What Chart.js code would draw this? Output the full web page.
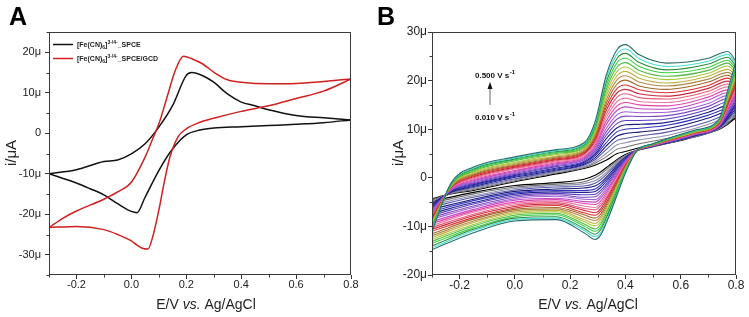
<!DOCTYPE html>
<html><head><meta charset="utf-8">
<script src="https://cdn.jsdelivr.net/npm/chart.js@4.4.1/dist/chart.umd.min.js"></script>
<style>
html,body{margin:0;padding:0;background:#fff;width:749px;height:317px;overflow:hidden}
.p{position:absolute;top:0;height:317px}
#wa{left:0;width:370px}#wb{left:370px;width:379px}
</style></head><body>
<div class="p" id="wa"><canvas id="ca" width="370" height="317"></canvas></div>
<div class="p" id="wb"><canvas id="cb" width="379" height="317"></canvas></div>
<script>
// ---------------- axes ----------------
const xTicks = [-0.2, 0.0, 0.2, 0.4, 0.6, 0.8];
const xMinor = [-0.3, -0.1, 0.1, 0.3, 0.5, 0.7];
const yTicksA = [-30, -20, -10, 0, 10, 20];
const yMinorA = [-35, -25, -15, -5, 5, 15, 25];
const yTicksB = [-20, -10, 0, 10, 20, 30];
const yMinorB = [-15, -5, 5, 15, 25];

// ---------------- Panel A data (E in V, i in µA) ----------------
const seriesA = ['[Fe(CN)6]3-/4-_SPCE', '[Fe(CN)6]3-/4-_SPCE/GCD'];
const eA_SPCE_fwd = [-0.3, -0.2, -0.1, -0.05, 0.0, 0.05, 0.1, 0.15, 0.2, 0.22, 0.26, 0.3, 0.35, 0.4, 0.45, 0.5, 0.6, 0.7, 0.8];
const iA_SPCE_fwd = [-10.0, -9.0, -7.0, -6.6, -5.1, -2.6, 1.5, 6.8, 14.3, 15.0, 14.2, 12.6, 9.7, 7.7, 6.8, 5.8, 4.4, 3.8, 3.3];
const eA_SPCE_rev = [0.7, 0.6, 0.5, 0.4, 0.3, 0.25, 0.2, 0.15, 0.1, 0.05, 0.02, 0.0, -0.05, -0.1, -0.15, -0.2, -0.3];
const iA_SPCE_rev = [2.6, 2.2, 1.9, 1.6, 1.3, 0.8, -0.4, -3.9, -9.2, -15.8, -19.6, -19.3, -17.4, -15.2, -13.7, -12.3, -10.0];
const eA_GCD_fwd = [-0.3, -0.25, -0.2, -0.1, -0.05, 0.0, 0.05, 0.08, 0.1, 0.13, 0.16, 0.19, 0.22, 0.26, 0.3, 0.35, 0.4, 0.5, 0.6, 0.7, 0.8];
const iA_GCD_fwd = [-23.3, -21.0, -19.2, -16.3, -14.5, -12.1, -5.9, -1.0, 2.3, 8.9, 15.5, 19.0, 18.4, 17.1, 15.1, 13.2, 12.6, 12.2, 12.3, 12.8, 13.4];
const eA_GCD_rev = [0.7, 0.6, 0.5, 0.4, 0.3, 0.25, 0.2, 0.17, 0.14, 0.12, 0.1, 0.08, 0.06, 0.04, 0.02, 0.0, -0.05, -0.1, -0.2, -0.3];
const iA_GCD_rev = [10.4, 8.6, 6.8, 5.4, 3.7, 2.7, 1.1, -0.9, -6.0, -12.0, -19.0, -25.0, -28.6, -28.4, -27.6, -26.6, -25.0, -23.8, -23.0, -23.3];

// ---------------- Panel B data: one CV per scan rate ----------------
const eFwd = [-0.3, -0.23, -0.15, 0.0, 0.15, 0.25, 0.29, 0.33, 0.37, 0.40, 0.45, 0.55, 0.7, 0.77, 0.8];
const eRev = [0.77, 0.74, 0.65, 0.5, 0.44, 0.40, 0.37, 0.34, 0.31, 0.29, 0.25, 0.15, 0.0, -0.15, -0.3];
const scanRates = ['0.010','0.020','0.030','0.040','0.050','0.060','0.070','0.080','0.090','0.100','0.125','0.150','0.175','0.200','0.225','0.250','0.275','0.300','0.325','0.350','0.375','0.400','0.425','0.450','0.500'];

const f010 = [-4.3, -3.3, -2.6, -0.8, 0.8, 1.9, 2.6, 3.6, 5.0, 5.4, 6.2, 7.4, 9.8, 11.4, 12.4];
const r010 = [11.0, 10.0, 8.4, 6.4, 5.6, 4.8, 3.8, 2.5, 1.2, 0.5, -0.3, -1.0, -1.6, -3.0, -4.8];
const f020 = [-4.6, -3.2, -2.4, -0.6, 1.0, 2.1, 3.0, 4.3, 5.9, 6.3, 7.0, 8.1, 10.4, 12.0, 12.9];
const r020 = [11.3, 10.1, 8.5, 6.4, 5.6, 4.6, 3.5, 2.1, 0.7, 0.0, -0.8, -1.3, -1.9, -3.3, -5.2];
const f030 = [-4.9, -3.1, -2.2, -0.4, 1.2, 2.3, 3.3, 5.0, 6.8, 7.2, 7.8, 8.7, 11.0, 12.6, 13.4];
const r030 = [11.6, 10.2, 8.5, 6.5, 5.6, 4.5, 3.2, 1.6, 0.1, -0.6, -1.2, -1.6, -2.2, -3.7, -5.6];
const f040 = [-5.1, -3.0, -2.0, -0.2, 1.4, 2.6, 3.7, 5.8, 7.7, 8.1, 8.6, 9.4, 11.6, 13.2, 13.8];
const r040 = [11.9, 10.3, 8.6, 6.5, 5.6, 4.3, 2.9, 1.2, -0.4, -1.1, -1.7, -1.9, -2.5, -4.0, -6.0];
const f050 = [-5.4, -2.9, -1.8, 0.1, 1.6, 2.8, 4.1, 6.5, 8.6, 9.1, 9.4, 10.1, 12.3, 13.8, 14.3];
const r050 = [12.2, 10.4, 8.6, 6.5, 5.6, 4.2, 2.6, 0.7, -1.0, -1.7, -2.1, -2.3, -2.8, -4.4, -6.5];
const f060 = [-5.7, -2.8, -1.6, 0.3, 1.8, 3.0, 4.5, 7.2, 9.5, 10.0, 10.2, 10.8, 12.9, 14.4, 14.8];
const r060 = [12.5, 10.5, 8.7, 6.5, 5.6, 4.0, 2.3, 0.3, -1.5, -2.3, -2.6, -2.6, -3.1, -4.7, -6.9];
const f070 = [-6.0, -2.7, -1.4, 0.5, 2.0, 3.2, 4.8, 8.0, 10.3, 10.9, 11.0, 11.4, 13.5, 15.0, 15.3];
const r070 = [12.7, 10.6, 8.8, 6.6, 5.6, 3.8, 2.0, -0.1, -2.0, -2.8, -3.0, -2.9, -3.4, -5.1, -7.3];
const f080 = [-6.3, -2.6, -1.2, 0.7, 2.3, 3.4, 5.2, 8.7, 11.2, 11.8, 11.8, 12.1, 14.1, 15.7, 15.8];
const r080 = [13.0, 10.6, 8.8, 6.6, 5.6, 3.7, 1.7, -0.6, -2.6, -3.4, -3.5, -3.2, -3.7, -5.4, -7.7];
const f090 = [-6.5, -2.5, -1.0, 0.9, 2.5, 3.7, 5.6, 9.4, 12.1, 12.7, 12.6, 12.8, 14.7, 16.3, 16.3];
const r090 = [13.3, 10.7, 8.9, 6.6, 5.6, 3.5, 1.4, -1.0, -3.1, -3.9, -4.0, -3.5, -4.0, -5.8, -8.1];
const f100 = [-6.8, -2.4, -0.8, 1.1, 2.7, 3.9, 5.9, 10.1, 13.0, 13.6, 13.4, 13.5, 15.3, 16.9, 16.7];
const r100 = [13.6, 10.8, 8.9, 6.6, 5.6, 3.4, 1.1, -1.4, -3.7, -4.5, -4.4, -3.8, -4.3, -6.1, -8.5];
const f125 = [-7.1, -2.3, -0.6, 1.3, 2.9, 4.1, 6.3, 10.9, 13.9, 14.6, 14.2, 14.1, 16.0, 17.5, 17.2];
const r125 = [13.9, 10.9, 9.0, 6.7, 5.6, 3.2, 0.8, -1.9, -4.2, -5.0, -4.9, -4.2, -4.6, -6.5, -9.0];
const f150 = [-7.4, -2.2, -0.4, 1.5, 3.1, 4.3, 6.7, 11.6, 14.8, 15.5, 15.0, 14.8, 16.6, 18.1, 17.7];
const r150 = [14.2, 11.0, 9.0, 6.7, 5.6, 3.1, 0.5, -2.3, -4.8, -5.5, -5.3, -4.5, -5.0, -6.8, -9.4];
const f175 = [-7.7, -2.1, -0.2, 1.8, 3.3, 4.5, 7.0, 12.3, 15.7, 16.4, 15.7, 15.5, 17.2, 18.7, 18.2];
const r175 = [14.5, 11.1, 9.1, 6.7, 5.6, 2.9, 0.1, -2.7, -5.3, -6.1, -5.8, -4.8, -5.3, -7.1, -9.8];
const f200 = [-7.9, -2.0, 0.0, 2.0, 3.5, 4.8, 7.4, 13.0, 16.6, 17.3, 16.5, 16.2, 17.8, 19.3, 18.7];
const r200 = [14.8, 11.2, 9.2, 6.7, 5.5, 2.7, -0.2, -3.2, -5.8, -6.6, -6.3, -5.1, -5.6, -7.5, -10.2];
const f225 = [-8.2, -1.9, 0.2, 2.2, 3.7, 5.0, 7.8, 13.8, 17.5, 18.2, 17.3, 16.8, 18.4, 19.9, 19.2];
const r225 = [15.1, 11.3, 9.2, 6.8, 5.5, 2.6, -0.5, -3.6, -6.4, -7.2, -6.7, -5.4, -5.9, -7.8, -10.6];
const f250 = [-8.5, -1.9, 0.4, 2.4, 3.9, 5.2, 8.2, 14.5, 18.4, 19.1, 18.1, 17.5, 19.0, 20.5, 19.6];
const r250 = [15.4, 11.4, 9.3, 6.8, 5.5, 2.4, -0.8, -4.1, -6.9, -7.7, -7.2, -5.7, -6.2, -8.2, -11.0];
const f275 = [-8.8, -1.8, 0.6, 2.6, 4.1, 5.4, 8.5, 15.2, 19.3, 20.1, 18.9, 18.2, 19.7, 21.1, 20.1];
const r275 = [15.7, 11.5, 9.3, 6.8, 5.5, 2.3, -1.1, -4.5, -7.5, -8.3, -7.6, -6.1, -6.5, -8.5, -11.5];
const f300 = [-9.0, -1.7, 0.8, 2.8, 4.3, 5.7, 8.9, 15.9, 20.2, 21.0, 19.7, 18.9, 20.3, 21.7, 20.6];
const r300 = [16.0, 11.6, 9.4, 6.8, 5.5, 2.1, -1.4, -4.9, -8.0, -8.8, -8.1, -6.4, -6.8, -8.9, -11.9];
const f325 = [-9.3, -1.6, 1.0, 3.0, 4.5, 5.9, 9.3, 16.7, 21.0, 21.9, 20.5, 19.5, 20.9, 22.3, 21.1];
const r325 = [16.2, 11.7, 9.4, 6.9, 5.5, 1.9, -1.7, -5.4, -8.5, -9.4, -8.6, -6.7, -7.1, -9.2, -12.3];
const f350 = [-9.6, -1.5, 1.2, 3.2, 4.8, 6.1, 9.6, 17.4, 21.9, 22.8, 21.3, 20.2, 21.5, 23.0, 21.6];
const r350 = [16.5, 11.7, 9.5, 6.9, 5.5, 1.8, -2.0, -5.8, -9.1, -9.9, -9.0, -7.0, -7.4, -9.6, -12.7];
const f375 = [-9.9, -1.4, 1.4, 3.5, 5.0, 6.3, 10.0, 18.1, 22.8, 23.7, 22.1, 20.9, 22.1, 23.6, 22.1];
const r375 = [16.8, 11.8, 9.6, 6.9, 5.5, 1.6, -2.3, -6.2, -9.6, -10.5, -9.5, -7.3, -7.7, -9.9, -13.1];
const f400 = [-10.2, -1.3, 1.6, 3.7, 5.2, 6.5, 10.4, 18.8, 23.7, 24.6, 22.9, 21.6, 22.7, 24.2, 22.5];
const r400 = [17.1, 11.9, 9.6, 6.9, 5.5, 1.5, -2.6, -6.7, -10.2, -11.0, -9.9, -7.6, -8.0, -10.3, -13.5];
const f425 = [-10.4, -1.2, 1.8, 3.9, 5.4, 6.8, 10.8, 19.6, 24.6, 25.6, 23.7, 22.2, 23.4, 24.8, 23.0];
const r425 = [17.4, 12.0, 9.7, 7.0, 5.5, 1.3, -2.9, -7.1, -10.7, -11.6, -10.4, -8.0, -8.3, -10.6, -14.0];
const f450 = [-10.7, -1.1, 2.0, 4.1, 5.6, 7.0, 11.1, 20.3, 25.5, 26.5, 24.5, 22.9, 24.0, 25.4, 23.5];
const r450 = [17.7, 12.1, 9.7, 7.0, 5.5, 1.2, -3.2, -7.6, -11.3, -12.1, -10.8, -8.3, -8.6, -10.9, -14.4];
const f500 = [-11.0, -1.0, 2.2, 4.3, 5.8, 7.2, 11.5, 21.0, 26.4, 27.4, 25.3, 23.6, 24.6, 26.0, 24.0];
const r500 = [18.0, 12.2, 9.8, 7.0, 5.5, 1.0, -3.5, -8.0, -11.8, -12.7, -11.3, -8.6, -8.9, -11.3, -14.8];

const curvesB = [[f010,r010],[f020,r020],[f030,r030],[f040,r040],[f050,r050],[f060,r060],[f070,r070],[f080,r080],[f090,r090],[f100,r100],
  [f125,r125],[f150,r150],[f175,r175],[f200,r200],[f225,r225],[f250,r250],[f275,r275],[f300,r300],[f325,r325],[f350,r350],
  [f375,r375],[f400,r400],[f425,r425],[f450,r450],[f500,r500]];
const colorsB = ['#000000','#707070','#9090b0','#5858a8','#181878','#3434c0','#202090','#5a40c0','#8048c0','#a060d0',
  '#c048c8','#e040a8','#e87aa8','#e85a78','#c8283c','#e03030','#a06828','#b08a48','#c0b040','#a8c838',
  '#50b848','#3cd040','#2e8b3e','#48e0d0','#2a6b68'];

// ---------------- helpers ----------------
const FONT = '"Liberation Sans", Arial, Helvetica, sans-serif';
const pts = (xs, ys) => xs.map((x, i) => ({x: x, y: ys[i]}));
// forward branch, and reverse branch starting from the forward end point (so the loop is continuous)
const branches = (ef, vf, er, vr) => {
  const f = pts(ef, vf);
  return [f, [f[f.length - 1]].concat(pts(er, vr))];
};
const lineDs = (label, data, color, width) => ({label: label, data: data, showLine: true, borderColor: color,
  borderWidth: width, pointRadius: 0, tension: 0.4, cubicInterpolationMode: 'monotone', fill: false});

function makeDeco(cfg) {
  return {
    id: 'deco',
    afterDraw(chart) {
      const ctx = chart.ctx, a = chart.chartArea, xs = chart.scales.x, ys = chart.scales.y;
      ctx.save();
      ctx.strokeStyle = '#3a3a3a'; ctx.lineWidth = 1;
      ctx.strokeRect(Math.round(a.left) + 0.5, Math.round(a.top) + 0.5, Math.round(a.right - a.left) - 1, Math.round(a.bottom - a.top) - 1);
      ctx.beginPath();
      xMinor.forEach(v => { const px = Math.round(xs.getPixelForValue(v)) + 0.5; ctx.moveTo(px, a.bottom); ctx.lineTo(px, a.bottom + 2.5); });
      cfg.yMinor.forEach(v => { const py = Math.round(ys.getPixelForValue(v)) + 0.5; ctx.moveTo(a.left, py); ctx.lineTo(a.left - 2.5, py); });
      ctx.stroke();
      ctx.fillStyle = '#000';
      ctx.font = 'bold 25px ' + FONT; ctx.textAlign = 'left'; ctx.textBaseline = 'alphabetic';
      ctx.fillText(cfg.letter, cfg.letterX, 25);
      // y title
      ctx.save(); ctx.translate(cfg.yTitleX, 153); ctx.rotate(-Math.PI / 2);
      ctx.font = '15px ' + FONT; ctx.textAlign = 'center'; ctx.textBaseline = 'middle';
      ctx.fillStyle = '#222'; ctx.fillText('i/\u03bcA', 0, 0); ctx.restore();
      // x title with italic "vs."
      const parts = [['E/V ', '14px ' + FONT], ['vs.', 'italic 14px ' + FONT], [' Ag/AgCl', '14px ' + FONT]];
      let w = 0; parts.forEach(p => { ctx.font = p[1]; w += ctx.measureText(p[0]).width; });
      let x0 = cfg.xTitleX - w / 2;
      ctx.fillStyle = '#222'; ctx.textAlign = 'left'; ctx.textBaseline = 'alphabetic';
      parts.forEach(p => { ctx.font = p[1]; ctx.fillText(p[0], x0, 309); x0 += ctx.measureText(p[0]).width; });
      if (cfg.extra) cfg.extra(ctx);
      ctx.restore();
    }
  };
}

function chemLabel(ctx, x, y, suffix) {
  ctx.fillStyle = '#222'; ctx.textAlign = 'left'; ctx.textBaseline = 'alphabetic';
  const seg = [['[Fe(CN)', 'bold 7px', 0], ['6', 'bold 5px', 2], [']', 'bold 7px', 0], ['3-/4-', 'bold 5px', -3.5], [suffix, 'bold 7px', 0]];
  let cx = x;
  seg.forEach(s => { ctx.font = s[1] + ' ' + FONT; ctx.fillText(s[0], cx, y + s[2]); cx += ctx.measureText(s[0]).width; });
}

function axisScales(yMin, yMax, yTicks, yWidth, fontSize, yPad) {
  return {
    x: {type: 'linear', min: -0.3, max: 0.8,
      afterBuildTicks: s => { s.ticks = xTicks.map(v => ({value: v})); },
      afterFit: s => { s.height = 42; },
      grid: {drawOnChartArea: false, drawTicks: true, tickLength: 4, color: '#333'},
      border: {display: false},
      ticks: {color: '#222', padding: -1, font: {family: FONT, size: fontSize}, maxRotation: 0,
        callback: v => Number(v).toFixed(1)}},
    y: {type: 'linear', min: yMin, max: yMax,
      afterBuildTicks: s => { s.ticks = yTicks.map(v => ({value: v})); },
      afterFit: s => { s.width = yWidth; },
      grid: {drawOnChartArea: false, drawTicks: true, tickLength: 4, color: '#333'},
      border: {display: false},
      ticks: {color: '#222', padding: yPad, font: {family: FONT, size: fontSize},
        callback: v => (v === 0 ? '0' : v + '\u03bc')}}
  };
}

// ---------------- Panel A ----------------
const gcd = branches(eA_GCD_fwd, iA_GCD_fwd, eA_GCD_rev, iA_GCD_rev);
const spce = branches(eA_SPCE_fwd, iA_SPCE_fwd, eA_SPCE_rev, iA_SPCE_rev);
new Chart(document.getElementById('ca'), {
  type: 'scatter',
  data: {datasets: [
    lineDs(seriesA[1], gcd[0], '#d02020', 1.5), lineDs(seriesA[1], gcd[1], '#d02020', 1.5),
    lineDs(seriesA[0], spce[0], '#111111', 1.5), lineDs(seriesA[0], spce[1], '#111111', 1.5)
  ]},
  options: {
    responsive: false, animation: false, events: [],
    layout: {padding: {top: 32, right: 19, bottom: 0, left: 0}},
    plugins: {legend: {display: false}, tooltip: {enabled: false}},
    scales: axisScales(-35, 25, yTicksA, 49, 11, 4)
  },
  plugins: [makeDeco({letter: 'A', letterX: 9, yTitleX: 12, xTitleX: 206, yMinor: yMinorA,
    extra: ctx => {
      ctx.lineWidth = 1.5;
      ctx.strokeStyle = '#111'; ctx.beginPath(); ctx.moveTo(53, 44.5); ctx.lineTo(73, 44.5); ctx.stroke();
      ctx.strokeStyle = '#d02020'; ctx.beginPath(); ctx.moveTo(53, 58.5); ctx.lineTo(73, 58.5); ctx.stroke();
      chemLabel(ctx, 77, 47, '_SPCE');
      chemLabel(ctx, 77, 61, '_SPCE/GCD');
    }})]
});

// ---------------- Panel B ----------------
const dsB = [];
for (let k = curvesB.length - 1; k >= 0; k--) {
  const b = branches(eFwd, curvesB[k][0], eRev, curvesB[k][1]);
  dsB.push(lineDs(scanRates[k] + ' V/s', b[0], colorsB[k], 1.1));
  dsB.push(lineDs(scanRates[k] + ' V/s', b[1], colorsB[k], 1.1));
}
new Chart(document.getElementById('cb'), {
  type: 'scatter',
  data: {datasets: dsB},
  options: {
    responsive: false, animation: false, events: [],
    layout: {padding: {top: 32, right: 13, bottom: 0, left: 0}},
    plugins: {legend: {display: false}, tooltip: {enabled: false}},
    scales: axisScales(-20, 30, yTicksB, 62, 12, 1)
  },
  plugins: [makeDeco({letter: 'B', letterX: 7, yTitleX: 29, xTitleX: 218, yMinor: yMinorB,
    extra: ctx => {
      const rate = (txt, x, y) => {
        ctx.fillStyle = '#111'; ctx.textAlign = 'left'; ctx.textBaseline = 'alphabetic';
        ctx.font = 'bold 8px ' + FONT; ctx.fillText(txt + ' V s', x, y);
        const w = ctx.measureText(txt + ' V s').width;
        ctx.font = 'bold 6px ' + FONT; ctx.fillText('-1', x + w + 0.5, y - 4);
      };
      rate(scanRates[scanRates.length - 1], 105, 77.5);
      rate(scanRates[0], 105, 120);
      ctx.strokeStyle = '#9a9a9a'; ctx.lineWidth = 1.5;
      ctx.beginPath(); ctx.moveTo(120, 105); ctx.lineTo(120, 88); ctx.stroke();
      ctx.fillStyle = '#111'; ctx.beginPath(); ctx.moveTo(120, 82); ctx.lineTo(117.5, 89); ctx.lineTo(122.5, 89); ctx.closePath(); ctx.fill();
    }})]
});
</script>
</body></html>
